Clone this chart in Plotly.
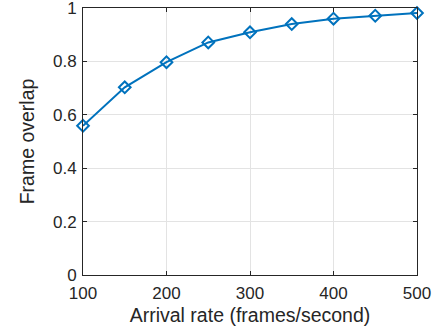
import plotly.graph_objects as go

arrival_rate = [100, 150, 200, 250, 300, 350, 400, 450, 500]
frame_overlap = [0.559, 0.703, 0.797, 0.871, 0.909, 0.940, 0.960, 0.971, 0.981]

FONT = "Liberation Sans, Arial, Helvetica"
TXT = "#262626"

fig = go.Figure()
fig.add_trace(go.Scatter(
    x=arrival_rate, y=frame_overlap, mode="lines+markers",
    line=dict(color="#0072BD", width=2),
    marker=dict(symbol="diamond-open", size=9, color="#0072BD", line=dict(width=2, color="#0072BD")),
    cliponaxis=False, showlegend=False,
))
axis_common = dict(
    showline=True, linecolor="#262626", linewidth=1, mirror="ticks",
    ticks="inside", ticklen=4, tickcolor="#262626",
    showgrid=True, gridcolor="#E3E3E3", gridwidth=1, zeroline=False,
    tickfont=dict(family=FONT, size=17, color=TXT), automargin=False,
    ticklabeloverflow="allow",
)
fig.update_xaxes(range=[100, 500], tickvals=[100, 200, 300, 400, 500],
                 ticklabelstandoff=3,
                 title=dict(text="Arrival rate (frames/second)", standoff=5,
                            font=dict(family=FONT, size=19.5, color=TXT)),
                 **axis_common)
fig.update_yaxes(range=[0, 1], tickvals=[0, 0.2, 0.4, 0.6, 0.8, 1],
                 ticktext=["0", "0.2", "0.4", "0.6", "0.8", "1"],
                 ticklabelstandoff=2,
                 title=dict(text="Frame overlap", standoff=13,
                            font=dict(family=FONT, size=19.5, color=TXT)),
                 **axis_common)
fig.update_layout(
    width=434, height=330, margin=dict(l=83, r=17, t=8, b=55),
    plot_bgcolor="white", paper_bgcolor="white",
)
fig.write_html("out.html", config={"displayModeBar": False},
               post_script="document.body.style.margin='0px';")
